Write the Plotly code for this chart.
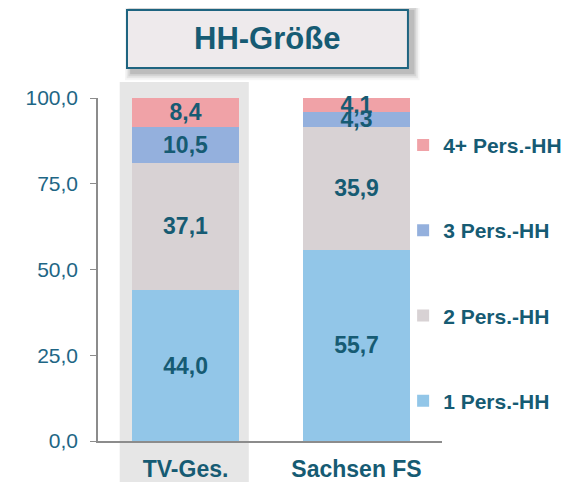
import plotly.graph_objects as go

categories = ["TV-Ges.", "Sachsen FS"]
series_names = ["1 Pers.-HH", "2 Pers.-HH", "3 Pers.-HH", "4+ Pers.-HH"]
pers1 = [44.0, 55.7]
pers2 = [37.1, 35.9]
pers3 = [10.5, 4.3]
pers4 = [8.4, 4.1]
y_ticks = [0, 25, 50, 75, 100]

TEAL = "#165B73"
TICK_TEAL = "#1E6685"
FONT = "Liberation Sans, Arial, sans-serif"
colors = ["#92C6E8", "#D8D2D4", "#94B0DD", "#F0A2A7"]
ranks = [4, 3, 2, 1]

fig = go.Figure()
for name, vals, col, rk in zip(series_names, [pers1, pers2, pers3, pers4], colors, ranks):
    fig.add_trace(go.Bar(
        x=categories, y=vals, name=name, legendgroup=name, legendrank=rk,
        marker=dict(color=col, line=dict(width=0)),
        text=[f"{v:.1f}".replace(".", ",") for v in vals],
        textposition="inside", insidetextanchor="middle",
        constraintext="none", cliponaxis=False,
        textfont=dict(family=FONT, size=23, color=TEAL, weight="bold"),
    ))

# gray highlight behind first category
fig.add_shape(type="rect", xref="x", yref="paper", x0=-0.385, x1=0.37,
              y0=-0.15, y1=1.047, fillcolor="#E6E6E6", line=dict(width=0), layer="below")

# title box with soft shadow
bx0, bx1, by0, by1 = 0.0843, 0.901, 1.0875, 1.2566
for i, op in enumerate([0.04, 0.06, 0.08, 0.11]):
    d = (4 - i) * 0.005
    fig.add_shape(type="rect", xref="paper", yref="paper",
                  x0=bx0 - d + 0.014, x1=bx1 + d + 0.014,
                  y0=by0 - d * 1.2 - 0.012, y1=by1 + d - 0.004,
                  fillcolor="rgba(0,0,0,%s)" % op, line=dict(width=0), layer="above")
fig.add_shape(type="rect", xref="paper", yref="paper", x0=bx0, x1=bx1,
              y0=by0, y1=by1, fillcolor="#EEEAEC",
              line=dict(color="#1E6480", width=2), layer="above")
fig.add_annotation(text="<b>HH-Größe</b>", xref="paper", yref="paper",
                   x=(bx0 + bx1) / 2, y=(by0 + by1) / 2,
                   xanchor="center", yanchor="middle",
                   showarrow=False, font=dict(family=FONT, size=31, color=TEAL))

fig.update_layout(
    barmode="stack", bargap=0.374,
    width=570, height=474,
    margin=dict(l=90, r=136, t=90, b=41, autoexpand=False),
    paper_bgcolor="white", plot_bgcolor="rgba(0,0,0,0)",
    font=dict(family=FONT, color=TEAL),
    legend=dict(traceorder="grouped", tracegroupgap=55,
                x=0.887, y=0.922, xanchor="left", yanchor="top",
                font=dict(family=FONT, size=21, color=TEAL, weight="bold"),
                itemwidth=30, bgcolor="rgba(0,0,0,0)"),
    showlegend=True,
)
fig.update_yaxes(range=[0, 100], tickvals=y_ticks, ticktext=[f"{v:.1f}".replace(".", ",") for v in y_ticks],
                 showgrid=False, showline=True, linecolor="#8C8C8C", linewidth=1.5,
                 ticks="outside", ticklen=6, tickcolor="#8C8C8C",
                 tickfont=dict(family=FONT, size=21, color=TICK_TEAL), ticklabelstandoff=8,
                 zeroline=False)
fig.update_xaxes(range=[-0.512, 1.5], showgrid=False, showline=True, linecolor="#8C8C8C",
                 linewidth=1.5, ticks="", tickfont=dict(family=FONT, size=23, color=TEAL, weight="bold"),
                 ticklabelstandoff=7)

fig.write_html("out.html")
